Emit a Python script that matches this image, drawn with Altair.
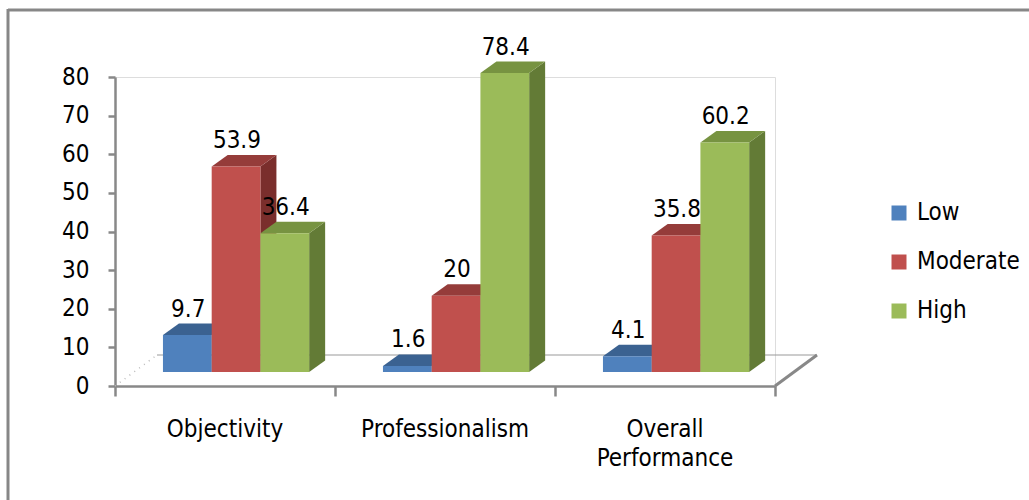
import altair as alt
import pandas as pd

categories = ["Objectivity", "Professionalism", "Overall Performance"]
series = ["Low", "Moderate", "High"]
low = [9.7, 1.6, 4.1]
moderate = [53.9, 20, 35.8]
high = [36.4, 78.4, 60.2]

front_colors = ["#4F81BD", "#C0504D", "#9BBB59"]
top_colors = ["#3B6291", "#953C3A", "#779341"]
side_colors = ["#2F4D72", "#7A2E2C", "#637B36"]

FONT = "DejaVu Sans Condensed"
FS = 24
PX_PER_UNIT = 309 / 80.0
BASE = 14 / PX_PER_UNIT          # bars stand half-way into the floor
PERSP = 0.987                    # perspective shrink of the bar plane
DDX = 16 / 220.0                 # bar depth, x
DDY = 11.5 / PX_PER_UNIT         # bar depth, y
FLOOR_DX = 42 / 220.0
FLOOR_DY = 31 / PX_PER_UNIT
GROUP_START = 0.218
BAR_W = 0.2215

values = [low, moderate, high]
fronts, tops, sides, labels = [], [], [], []
for i, cat in enumerate(categories):
    for j, s in enumerate(series):
        v = values[j][i]
        x0 = i + GROUP_START + j * BAR_W
        x1 = x0 + BAR_W
        yf = BASE + v * PERSP
        yb = yf + DDY
        bid = f"b{i}{j}"
        fronts.append(dict(series=s, x0=x0, x1=x1, y0=BASE, y1=yf))
        for xx, lo, hi in [(x0, yf, yf), (x0 + DDX, yf, yb), (x1, yf, yb), (x1 + DDX, yb, yb)]:
            tops.append(dict(id=bid, s=j, px=xx, lo=lo, hi=hi))
        for xx, lo, hi in [(x1, BASE, yf), (x1 + DDX, BASE + DDY, yb)]:
            sides.append(dict(id=bid, s=j, px=xx, lo=lo, hi=hi))
        labels.append(dict(x=(x0 + x1) / 2 + 0.004, y=yb, t=f"{v:g}"))

fronts = pd.DataFrame(fronts)
tops = pd.DataFrame(tops)
sides = pd.DataFrame(sides)
labels = pd.DataFrame(labels)
cats = pd.DataFrame({"x": [i + 0.5 for i in range(len(categories))], "y": [0] * 3, "t": categories})

xs = alt.Scale(domain=[0, 3], nice=False, zero=False)
ys = alt.Scale(domain=[0, 80], nice=False, zero=False)

axis_y = alt.Axis(values=list(range(0, 81, 10)), tickSize=7, tickWidth=2.5, tickColor="#888888",
                  domainColor="#888888", domainWidth=2.5, labelFontSize=FS, labelFont=FONT,
                  labelColor="#000000", labelPadding=19, labelOverlap=False, grid=False, title=None)
axis_x = alt.Axis(values=[0, 1, 2, 3], tickSize=10, tickWidth=2.5, tickColor="#888888",
                  domainColor="#888888", domainWidth=2.5, labels=False, grid=False, title=None)


def X(f):
    return alt.X(f, scale=xs, axis=axis_x)


def Y(f):
    return alt.Y(f, scale=ys, axis=axis_y, stack=None)


floor_back = pd.DataFrame({"x": [FLOOR_DX], "x2": [3 + FLOOR_DX], "y": [FLOOR_DY], "y2": [FLOOR_DY]})
floor_left = pd.DataFrame({"x": [0, FLOOR_DX], "y": [0, FLOOR_DY]})
floor_right = pd.DataFrame({"x": [3, 3 + FLOOR_DX], "y": [0, FLOOR_DY]})

base_layer = alt.Chart(floor_back).mark_rule(color="#9a9a9a", strokeWidth=1.2).encode(
    x=X("x:Q"), x2="x2:Q", y=Y("y:Q"), y2="y2:Q")
left_diag = alt.Chart(floor_left).mark_line(color="#bbbbbb", strokeWidth=1.5, strokeDash=[1, 5]).encode(
    x=X("x:Q"), y=Y("y:Q"))
right_diag = alt.Chart(floor_right).mark_line(color="#888888", strokeWidth=3).encode(
    x=X("x:Q"), y=Y("y:Q"))

side_layers = [
    alt.Chart(sides).transform_filter(alt.datum.s == j).mark_area(color=side_colors[j], opacity=1).encode(
        x=X("px:Q"), y=Y("lo:Q"), y2="hi:Q", detail="id:N")
    for j in range(3)
]
top_layers = [
    alt.Chart(tops).transform_filter(alt.datum.s == j).mark_area(color=top_colors[j], opacity=1).encode(
        x=X("px:Q"), y=Y("lo:Q"), y2="hi:Q", detail="id:N")
    for j in range(3)
]

front_layer = alt.Chart(fronts).mark_rect().encode(
    x=X("x0:Q"), x2="x1:Q", y=Y("y0:Q"), y2="y1:Q",
    color=alt.Color("series:N", scale=alt.Scale(domain=series, range=front_colors),
                    legend=alt.Legend(title=None, orient="none", legendX=772, legendY=124,
                                      symbolType="square", symbolSize=225, symbolStrokeWidth=0,
                                      labelFontSize=FS, labelFont=FONT, labelColor="#000000",
                                      labelOffset=6, rowPadding=25, padding=0)))

value_text = alt.Chart(labels).mark_text(fontSize=FS, font=FONT, baseline="bottom", dy=-2,
                                          color="#000000").encode(
    x=X("x:Q"), y=Y("y:Q"), text="t:N")

cat_text = alt.Chart(cats).mark_text(fontSize=FS, font=FONT, baseline="alphabetic", dy=51,
                                      lineBreak=" ", lineHeight=29, color="#000000").encode(
    x=X("x:Q"), y=Y("y:Q"), text="t:N")

border_top = alt.Chart(floor_back).mark_rule(color="#878787", strokeWidth=3).encode(
    x=alt.value(-107), x2=alt.value(1029 - 115), y=alt.value(-67))
border_left = alt.Chart(floor_back).mark_rule(color="#878787", strokeWidth=3).encode(
    x=alt.value(-107), y=alt.value(-68), y2=alt.value(500 - 77))

chart = alt.layer(base_layer, left_diag, right_diag, *side_layers, *top_layers, front_layer,
                  value_text, cat_text, border_top, border_left).properties(
    width=660, height=309,
    autosize=alt.AutoSizeParams(type="none"),
    padding={"left": 115, "top": 77, "right": 254, "bottom": 114},
).configure_view(stroke=None).configure(background="white")

chart.save("out.html", embed_options={"renderer": "svg", "actions": False})
